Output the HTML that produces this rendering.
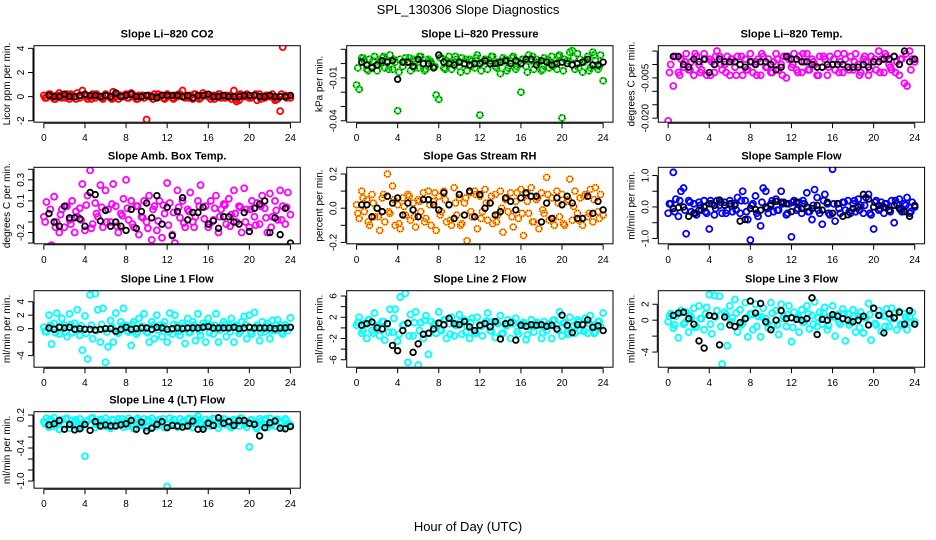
<!DOCTYPE html>
<html><head><meta charset="utf-8"><title>SPL_130306 Slope Diagnostics</title>
<style>
html,body{margin:0;padding:0;background:#fff;}
svg{display:block;font-family:"Liberation Sans",Arial,sans-serif;}
</style></head>
<body>
<svg id="chart" width="936" height="540" viewBox="0 0 936 540" xmlns="http://www.w3.org/2000/svg">
<text x="468" y="14" text-anchor="middle" font-size="13">SPL_130306  Slope Diagnostics</text>
<text x="468" y="531" text-anchor="middle" font-size="13">Hour of Day (UTC)</text>
</svg>
<script>
const hoursColor = [0,0.25,0.5,0.75,1,1.25,1.5,1.75,2,2.25,2.5,2.75,3,3.25,3.5,3.75,4,4.25,4.5,4.75,5,5.25,5.5,5.75,6,6.25,6.5,6.75,7,7.25,7.5,7.75,8,8.25,8.5,8.75,9,9.25,9.5,9.75,10,10.25,10.5,10.75,11,11.25,11.5,11.75,12,12.25,12.5,12.75,13,13.25,13.5,13.75,14,14.25,14.5,14.75,15,15.25,15.5,15.75,16,16.25,16.5,16.75,17,17.25,17.5,17.75,18,18.25,18.5,18.75,19,19.25,19.5,19.75,20,20.25,20.5,20.75,21,21.25,21.5,21.75,22,22.25,22.5,22.75,23,23.25,23.5,23.75,24];
const hoursColor2 = [0.125,0.625,1.125,1.625,2.125,2.625,3.125,3.625,4.125,4.625,5.125,5.625,6.125,6.625,7.125,7.625,8.125,8.625,9.125,9.625,10.125,10.625,11.125,11.625,12.125,12.625,13.125,13.625,14.125,14.625,15.125,15.625,16.125,16.625,17.125,17.625,18.125,18.625,19.125,19.625,20.125,20.625,21.125,21.625,22.125,22.625,23.125,23.625];
const hoursBlack = [0.5,1,1.5,2,2.5,3,3.5,4,4.5,5,5.5,6,6.5,7,7.5,8,8.5,9,9.5,10,10.5,11,11.5,12,12.5,13,13.5,14,14.5,15,15.5,16,16.5,17,17.5,18,18.5,19,19.5,20,20.5,21,21.5,22,22.5,23,23.5,24];
const xTicks = [0,4,8,12,16,20,24];

const co2Color = [0.1,-0.1,0.2,0,-0.2,0.1,0.3,-0.1,0,0.2, -0.2,0.1,0,0.3,-0.1,0.5,0.1,-0.2,0,0.2, -0.1,0.1,0,-0.2,0.2,0.1,-0.1,0.4,0,-0.2, 0.1,0,0.2,-0.1,0.3,0,-0.2,0.1,0,-0.1, -1.9,0.1,0,0.2,-0.1,0,0.1,-0.2,0.2,0, -0.1,0.1,0,0.2,0.5,-0.1,0,0.1,-0.2,0.2, 0,-0.1,0.3,0.1,0,-0.2,0.1,0,0.2,-0.1, 0,0.1,0,-0.2,0.5,-0.4,-0.3,0.1,0,0.2, -0.1,0,0.1,-0.3,0.2,0,-0.1,0.1,0,0.2, -0.3,-0.2,-1.2,4.1,0.1,0,-0.1];
const co2Color2 = [-0.1,0.2,-0.2,0.1,-0.1,0.2,-0.2,0.1,0,-0.2,0.2,-0.1,0.1,-0.2,0.2,0,-0.1,0.2,-0.2,0.1,0,-0.2,0.2,-0.1,0.1,-0.2,0.2,0,-0.1,0.2,-0.2,0.1,0,-0.2,0.2,-0.1,0.1,-0.2,0.2,0,-0.1,0.2,-0.2,0.1,0,-0.2,0.2,-0.1];
const co2Black = [0.1,0,0,0.2,0,0,0.1,0.2,0.1,0.1,0,0.1,0,0.3,0,0.1,0.2,0,0,0.1,0,-0.1,0.1,0.1,0.1,0.1,0,0.1,-0.1,0.1,0.1,0.2,0,0,0.1,0,0,0,0.1,0.1,0.1,0,0,0.1,0,0,0,0.1];

const presColor = [-0.015,-0.018,0.004,0.002,-0.004,0.003,-0.002,0.005,-0.005,0.001, 0.004,-0.003,0.002,0.006,-0.004,0.001,-0.033,0.003,-0.002,0.004, 0.001,-0.005,0.003,0.002,-0.003,0.005,0,-0.004,0.003,0.001, -0.002,-0.022,-0.025,0.004,-0.003,0.002,0.005,-0.004,0.001,0.003, -0.002,0.004,0,-0.005,0.003,0.002,-0.003,0.006,-0.036,0.001, 0.003,-0.004,0.002,0.005,-0.002,0.001,-0.007,0.004,0.003,-0.003, 0.002,0.005,-0.004,0.001,-0.02,0.003,-0.002,0.006,0.002,-0.004, 0.003,0.001,-0.005,0.004,0.002,-0.003,0.005,0,-0.004,0.006, -0.038,0.003,0.002,0.008,0.009,-0.004,0.007,0.003,-0.006,0.002, 0.005,-0.003,0.008,0.002,-0.004,0.006,-0.012];
const presColor2 = [-0.003,0.004,-0.005,0.002,-0.001,0.005,-0.004,0.003,-0.006,0.001,0.004,-0.003,0.005,-0.005,0.002,-0.002,0.004,-0.004,0.001,0.005,-0.006,0.003,-0.002,0.004,-0.005,0.002,0.005,-0.003,0.001,-0.005,0.004,-0.002,0.003,-0.006,0.005,0.001,-0.004,0.003,-0.002,0.005,-0.005,0.002,0.004,-0.003,0.001,-0.005,0.006,-0.002];
const presBlack = [0.001,-0.001,-0.003,-0.001,0.002,0.001,0.002,-0.011,0.001,0.001,-0.002,0.003,0,0,-0.003,0.006,0.001,0,-0.001,0.001,0,-0.001,0,0,0.002,0,0,0.001,0.002,0,0.002,0,0.003,0.003,-0.001,0.002,0.001,-0.001,0,0.001,0,-0.001,0,0.001,0.003,-0.001,-0.001,0.001];

const tempColor = [-0.021,0,-0.008,0.003,-0.003,0.002,-0.001,0.004,-0.002,0.001, -0.004,0.003,0,-0.002,0.004,-0.004,0.002,0.001,-0.003,0.005, 0.003,-0.002,0,0.003,-0.004,0.002,-0.001,0.003,0,-0.004, 0.002,-0.002,0.004,-0.003,0.001,0.002,-0.004,0.003,-0.001,0.002, -0.003,0.001,0.004,-0.002,0,0.003,-0.005,0.002,-0.001,0.004, -0.002,0.003,-0.003,0.001,0.004,-0.002,0.002,0,-0.004,0.003, -0.001,0.002,-0.004,0.003,0,-0.002,0.004,0.001,-0.003,0.002, -0.001,0.003,-0.002,0.004,0,-0.003,0.002,0.001,-0.004,0.003, 0.001,-0.002,0.005,0.002,-0.003,0.003,0,-0.002,0.003,0.001, -0.004,0.002,-0.007,-0.008,0.005,0.002,0.001];
const tempColor2 = [-0.003,0.003,-0.004,0.001,-0.002,0.004,-0.003,0.002,-0.004,0.003,0,-0.003,0.002,-0.004,0.003,-0.002,0.001,-0.004,0.004,-0.001,-0.003,0.002,-0.004,0.003,0,-0.003,0.004,-0.002,0.001,-0.004,0.003,-0.001,0.002,-0.003,0.004,-0.002,0.001,-0.004,0.003,-0.002,0.002,-0.003,0.004,-0.001,-0.003,0.002,0.004,-0.002];
const tempBlack = [0.003,0.003,0,-0.001,0.002,0.001,0.002,-0.003,0,0.002,0.001,0.001,0.001,0,-0.001,0.001,0,0.001,0.001,0,-0.002,-0.001,0.003,0.002,0.002,0.001,0.001,0,-0.001,-0.001,0,0,0,0,-0.001,-0.001,-0.001,0,-0.001,0.001,0.001,0.002,0.002,0.003,0,0.005,0.001,0.002];

const ambColor = [-0.05,0.09,-0.35,-0.32,0.14,-0.1,-0.2,0.02,-0.15,0.05, -0.08,0.1,-0.2,-0.05,0.03,0.26,-0.18,0.15,0.39,-0.12, 0.08,-0.05,0.25,-0.15,0.2,0.02,-0.1,0.26,0.05,-0.2, -0.02,0.12,0.3,-0.08,0.1,-0.15,0.05,-0.22,-0.05,0.1, -0.1,0.15,-0.27,0.05,-0.18,0.1,-0.25,-0.02,0.27,0.08, -0.22,-0.3,0.2,-0.06,0.1,-0.15,0.02,0.18,-0.1,-0.05, 0.1,0.25,-0.35,0.05,-0.15,0.1,-0.08,0.15,-0.2,0.02, 0.07,-0.12,0.12,-0.03,0.2,-0.1,0.05,-0.2,0.22,0.02, -0.15,0.1,-0.05,0.08,-0.12,0.15,0.03,-0.2,0.17,-0.05, 0.1,-0.08,0.2,0.05,-0.12,0.18,-0.03];
const ambColor2 = [-0.1,0.02,-0.15,-0.03,0.05,-0.12,0.0,-0.08,0.06,-0.16,-0.02,0.04,-0.1,0.07,-0.14,-0.04,0.03,-0.12,0.05,-0.06,-0.16,0.02,-0.09,0.06,-0.13,-0.01,0.04,-0.11,0.0,-0.15,0.05,-0.07,-0.12,0.03,-0.05,0.06,-0.14,-0.02,0.04,-0.1,0.02,-0.13,0.05,-0.06,-0.15,0.01,-0.08,0.04];
const ambBlack = [-0.02,-0.1,-0.14,0.05,-0.06,-0.06,-0.07,-0.14,0.18,0.16,-0.09,0.01,-0.14,-0.1,-0.14,-0.18,0.02,-0.16,0.0,0.08,-0.06,0.15,-0.12,0.04,-0.23,0.0,0.13,-0.08,-0.01,-0.01,0.04,-0.12,-0.09,-0.16,-0.05,-0.05,-0.1,-0.12,-0.01,-0.19,0.03,0.07,0.1,-0.2,-0.06,-0.22,0.03,-0.3];

const rhColor = [0.02,-0.06,0.1,-0.02,0.05,-0.1,0.08,-0.05,0.0,-0.13, 0.06,-0.08,0.2,-0.03,0.13,-0.1,0.02,-0.12,0.06,-0.04, 0.08,-0.07,0.03,-0.11,0.05,-0.02,0.09,-0.06,0.1,-0.1, 0.04,-0.13,0.07,-0.02,0.1,-0.08,0.02,-0.1,0.12,-0.04, 0.06,-0.09,0.03,-0.19,0.09,-0.05,0.1,-0.12,0.07,-0.02, 0.11,-0.07,0.03,-0.09,0.08,-0.04,0.1,-0.14,0.05,-0.02, 0.09,-0.11,0.04,-0.06,0.11,-0.16,0.08,-0.03,0.12,-0.08, 0.05,-0.12,0.09,-0.03,0.18,-0.07,0.06,-0.1,0.1,-0.05, 0.08,-0.1,0.04,0.17,-0.07,0.1,-0.03,0.06,-0.1,0.08, -0.05,0.11,-0.08,0.12,-0.02,0.08,-0.04];
const rhColor2 = [-0.03,0.06,-0.08,0.03,-0.05,0.08,-0.02,0.05,-0.09,0.01,0.07,-0.05,0.04,-0.08,0.02,0.09,-0.04,0.05,-0.07,0.03,-0.1,0.06,-0.02,0.08,-0.06,0.03,0.07,-0.08,0.0,0.06,-0.05,0.09,-0.03,0.04,-0.08,0.06,-0.01,0.08,-0.06,0.03,-0.09,0.05,0.01,-0.07,0.07,-0.03,0.05,-0.06];
const rhBlack = [0.02,0.02,-0.05,0.0,-0.02,0.07,0.03,0.06,-0.04,0.03,-0.01,-0.05,0.05,0.05,0.02,-0.01,0.09,0.02,-0.06,0.08,-0.04,0.1,-0.05,0.08,0.0,0.03,-0.04,-0.02,0.06,0.04,-0.01,0.06,0.09,0.07,0.07,-0.08,0.03,-0.06,0.06,0.02,0.07,0.03,-0.06,-0.06,0.07,-0.03,0.04,-0.01];

const sampColor = [-0.2,0.1,1.1,0.25,-0.3,0.5,0.6,-0.85,0.2,-0.15, 0.1,-0.25,0.15,-0.1,0.2,-0.2,-0.7,0.1,-0.25,0.2, 0.05,-0.2,0.15,-0.1,0.2,-0.15,0.1,0.3,-0.2,0.5, 0.2,-0.4,-1.05,0.1,0.35,-0.3,-0.6,0.6,0.5,-0.2, 0.1,-0.15,0.25,-0.1,0.5,0.15,-0.25,0.1,-0.95,0.2, -0.1,0.15,-0.2,0.1,0.45,-0.15,-0.4,0.55,0.3,-0.2, -0.55,0.4,0.1,-0.25,1.2,-0.45,0.1,-0.2,0.15,-0.1, 0.2,-0.2,0.1,-0.15,0.25,0.05,-0.2,0.3,0.4,-0.25, -0.7,0.2,-0.1,0.15,-0.2,0.1,-0.1,0.2,-0.5,0.1, 0.25,-0.15,0.1,0.3,-0.2,0.15,0.0];
const sampColor2 = [0.1,-0.15,0.2,-0.1,0.15,-0.2,0.05,-0.15,0.2,-0.05,0.15,-0.2,0.1,-0.1,0.2,-0.15,0.05,-0.2,0.15,-0.05,0.2,-0.1,0.1,-0.2,0.15,-0.05,0.2,-0.15,0.05,-0.1,0.2,-0.2,0.1,-0.05,0.15,-0.15,0.2,-0.1,0.05,-0.2,0.15,-0.05,0.1,-0.15,0.2,-0.1,0.05,-0.15];
const sampBlack = [-0.05,-0.02,0.0,-0.3,-0.2,-0.1,0.0,0.1,0.05,0.22,0.05,0.1,0.05,-0.45,-0.4,-0.05,-0.08,-0.1,0.0,0.05,0.18,0.15,0.1,-0.15,0.15,-0.05,0.0,-0.05,0.05,-0.1,0.15,-0.2,0.1,-0.3,-0.25,-0.05,0.0,0.4,0.25,0.0,0.05,0.0,-0.1,0.05,-0.05,-0.15,-0.3,0.05];

const l1Color = [0.2,-0.5,2.0,-2.3,0.8,2.3,-0.8,1.5,0.5,-1.2, 2.2,-0.6,0.8,2.8,-1.0,-3.2,1.9,-4.5,5.0,-1.5, 5.2,2.8,-2.0,3.0,-5.0,-2.7,1.2,-2.0,2.3,-0.7, 1.0,3.0,0.5,-0.5,-2.5,1.0,-0.8,1.5,0.3,2.2, -0.5,-2.0,1.0,-1.5,2.0,0.5,-1.2,1.0,-2.0,2.3, -0.8,2.0,0.5,-1.0,0.8,-2.2,1.5,-0.5,1.0,-1.8, 2.2,-1.0,0.8,-2.0,1.5,0.5,-0.8,2.2,-2.0,0.3, 1.0,-1.2,0.5,1.5,-2.0,0.5,-0.7,1.0,1.8,-1.5, 2.0,-0.8,2.4,0.5,-1.8,1.0,-0.5,0.8,-1.5,1.2, -0.3,1.3,0.5,-0.8,0.6,-0.3,1.6];
const l1Color2 = [-0.4,0.5,-0.6,0.3,-0.5,0.6,-0.2,0.4,-0.7,0.5,-0.3,0.6,-0.5,0.2,-0.6,0.4,-0.3,0.6,-0.5,0.3,-0.6,0.5,-0.2,0.4,-0.5,0.6,-0.4,0.3,-0.6,0.5,-0.3,0.4,-0.6,0.5,-0.2,0.6,-0.5,0.3,-0.4,0.6,-0.5,0.2,-0.6,0.4,-0.3,0.5,-0.5,0.3];
const l1Black = [0.1,-0.1,0.2,0.1,0.2,-0.1,0,-0.1,-0.1,-0.2,-0.1,0,0,-0.4,-0.1,0.2,-0.1,0,0.1,0.1,-0.1,0.2,0.1,-0.1,0,0.1,0,0.1,0.1,0.1,0.2,0.3,0.1,0.1,0.1,0.1,0.2,0,0.1,0.2,0.1,0.1,0.1,0.1,0,0.1,0.1,0.2];

const l2Color = [0.5,2.0,-1.0,0.8,-2.0,1.5,-0.5,2.8,0.3,-1.5, 1.2,-2.3,0.8,3.5,-0.8,3.5,-2.5,5.8,0.5,6.5, -6.5,2.5,-1.5,3.0,-7.0,1.0,-2.0,2.3,-5.0,1.2, 0.5,-1.0,3.0,-0.5,1.5,-2.0,0.8,2.0,-1.5,0.5, 2.5,-1.2,1.5,0.3,-2.0,1.8,-1.0,2.0,0.5,-1.5, 1.0,2.8,-0.5,1.2,-1.8,0.8,2.3,-1.0,0.5,1.5, -2.0,0.8,1.8,-1.2,0.5,1.0,-2.2,0.3,1.5,-0.8, 1.0,0.5,-2.0,1.2,-0.5,0.8,-2.0,1.5,0.5,3.0, -1.5,1.0,-0.8,2.0,0.3,-1.0,1.5,-0.5,0.8,1.8, -1.0,2.3,0.5,-0.8,1.2,0.3,2.8];
const l2Color2 = [1.0,-0.5,1.5,-1.0,0.5,1.2,-0.8,1.8,-1.2,0.6,-1.5,1.0,-0.5,1.4,-1.0,0.8,-0.3,1.5,-1.2,0.5,1.2,-0.8,1.0,-1.0,0.3,1.3,-0.6,0.9,-1.1,0.4,1.2,-0.7,0.8,-1.3,0.5,1.0,-0.9,0.6,1.4,-0.5,0.9,-1.2,0.4,1.1,-0.6,0.8,-1.0,1.2];
const l2Black = [0.5,0.8,1.1,0.0,-0.2,0.8,-3.3,-4.3,-0.5,0.9,-4.6,-3.0,-1.2,-1.0,-0.2,0.9,0.6,1.8,0.8,0.6,1.2,0.2,-0.5,0.5,0.8,0.2,1.2,-2.1,0.8,1.0,-2.3,0.5,0.3,0.6,0.5,0.6,0.3,0.5,-0.2,2.4,0.5,-0.9,0.6,0.6,1.5,0.1,0.4,-0.5];

const l3Color = [-0.2,0.8,-1.0,0.5,-2.2,1.2,-0.5,1.0,-1.5,0.3, 1.5,-0.8,1.8,0.2,-1.2,1.6,3.2,-1.7,3.1,1.2, 3.0,-5.5,1.0,-3.2,1.8,0.3,2.6,-1.5,1.3,-0.4, 2.2,-2.1,0.8,-1.2,2.0,0.5,-2.1,1.5,0.2,-1.0, 2.2,-0.6,1.2,-1.8,2.0,0.5,-0.8,1.8,-2.7,1.0, 0.3,-1.5,1.3,-0.2,1.8,-1.1,0.6,2.3,-0.8,1.0, -0.5,1.6,-1.2,0.4,1.8,-2.0,0.7,-0.5,1.4,-2.6, 0.8,-0.3,1.3,-1.5,0.5,1.0,-1.6,0.3,2.1,-2.5, 1.5,-0.6,1.2,-1.4,0.5,1.4,-0.8,1.5,0.2,-1.2, 1.1,-0.6,0.8,-1.2,0.4,1.0,-0.2];
const l3Color2 = [0.5,-0.6,0.9,-0.3,0.6,-0.9,0.2,0.8,-0.5,0.4,-0.8,0.7,-0.2,0.9,-0.6,0.3,0.7,-0.8,0.4,-0.4,0.9,-0.6,0.2,0.7,-0.9,0.5,-0.3,0.8,-0.5,0.3,0.9,-0.7,0.4,-0.2,0.8,-0.6,0.5,-0.9,0.3,0.7,-0.4,0.6,-0.8,0.2,0.9,-0.5,0.4,-0.3];
const l3Black = [0.6,0.9,1.0,0.2,-0.5,-2.6,-3.5,0.6,0.5,-3.1,0.4,-0.6,-0.8,-0.3,0.2,2.4,0.9,2.1,-0.2,-1.2,0.0,1.2,0.2,0.3,0.1,0.0,0.2,2.8,-1.8,0.1,0.0,0.7,0.5,0.2,0.0,-0.2,0.0,0.5,-0.6,1.5,0.6,-1.6,0.8,0.3,1.0,-0.5,1.2,-0.5];

const l4Color = [0.08,0.14,-0.02,0.1,0.15,0.05,-0.06,0.12,0.02,0.14, -0.04,0.1,0.07,-0.02,0.13,0.04,-0.55,0.1,0.02,0.15, -0.03,0.08,0.12,0.0,0.14,0.06,-0.04,0.11,0.02,0.13, 0.05,-0.02,0.09,0.14,0.03,-0.05,0.12,0.07,0.01,0.13, -0.03,0.1,0.14,0.04,0.0,0.12,0.06,-0.03,-1.1,0.14, 0.05,0.1,-0.02,0.13,0.07,0.0,0.12,0.04,-0.03,0.14, 0.18,0.05,-0.02,0.12,0.08,0.0,0.14,0.05,-0.04,0.1, 0.13,0.02,0.09,-0.03,0.12,0.06,0.0,0.14,0.04,-0.02, -0.38,0.11,0.06,-0.05,0.13,0.02,0.1,-0.03,0.14,0.05, 0.0,0.12,0.07,-0.02,0.13,0.05,0.02];
const l4Color2 = [0.04,0.12,-0.01,0.09,0.13,0.02,0.11,-0.02,0.08,0.14,0.03,0.1,-0.01,0.12,0.06,0.13,0.0,0.1,0.14,0.04,0.11,-0.02,0.09,0.13,0.03,0.12,0.0,0.1,0.14,0.05,0.11,-0.01,0.08,0.13,0.03,0.12,0.0,0.1,0.14,0.04,0.11,-0.02,0.09,0.13,0.02,0.12,0.05,0.1];
const l4Black = [0.02,0.04,0.1,-0.06,0.03,-0.07,-0.05,0.03,-0.08,0.08,0.0,0.02,0.0,0.0,0.02,0.04,0.1,-0.06,0.07,-0.09,-0.04,0.03,0.08,-0.03,0.01,0.0,-0.02,0.0,0.09,-0.06,-0.06,0.05,0.01,0.15,0.05,0.08,0.01,0.1,0.1,0.05,0.03,-0.18,-0.03,0.06,0.09,-0.04,-0.05,-0.01];

const titles = ["Slope Li\u2013820 CO2","Slope Li\u2013820 Pressure","Slope Li\u2013820 Temp.","Slope Amb. Box Temp.","Slope Gas Stream RH","Slope Sample Flow","Slope Line 1 Flow","Slope Line 2 Flow","Slope Line 3 Flow","Slope Line 4 (LT) Flow"];
const yTitles = ["Licor ppm per min.","kPa per min.","degrees C  per min.","degrees C per min.","percent per min.","ml/min per min.","ml/min per min.","ml/min per min.","ml/min per min.","ml/min per min."];
const yTicks = [[-2,0,2,4],[0.01,0,-0.01,-0.02,-0.03,-0.04],[0.005,0,-0.005,-0.01,-0.015,-0.02],[0.4,0.3,0.2,0.1,0,-0.1,-0.2,-0.3],[0.2,0.1,0,-0.1,-0.2],[1,0.5,0,-0.5,-1],[4,2,0,-2,-4],[6,4,2,0,-2,-4,-6],[2,0,-2,-4],[0.2,0,-0.2,-0.4,-0.6,-0.8,-1.0]];
const yTickLabels = [["-2","0","2","4"],["","","-0.01","","","-0.04"],["","","-0.005","","","-0.020"],["","0.3","","0.1","","","-0.2",""],["0.2","","0.0","","-0.2"],["1.0","","0.0","","-1.0"],["4","2","0","","-4"],["6","","2","","-2","","-6"],["2","0","","-4"],["0.2","","","-0.4","","","-1.0"]];
const yRanges = [[4.22,-2.12],[0.0125,-0.041],[0.007,-0.0215],[0.419,-0.307],[0.239,-0.208],[1.26,-1.17],[5.63,-5.72],[7.0,-7.4],[3.7,-5.9],[0.26,-1.13]];
const colorSeries = [co2Color,presColor,tempColor,ambColor,rhColor,sampColor,l1Color,l2Color,l3Color,l4Color];
const colorSeries2 = [co2Color2,presColor2,tempColor2,ambColor2,rhColor2,sampColor2,l1Color2,l2Color2,l3Color2,l4Color2];
const blackSeries = [co2Black,presBlack,tempBlack,ambBlack,rhBlack,sampBlack,l1Black,l2Black,l3Black,l4Black];
const colors = ["#ff0000","#00e600","#ff00ff","#ff00ff","#ffc800","#0000ff","#00ffff","#00ffff","#00ffff","#00ffff"];
const overlays = [null,"#000000",null,null,"#ff0000",null,null,null,null,null];
const slugs = ["co2","pressure","li820-temp","amb-box-temp","gas-stream-rh","sample-flow","line1-flow","line2-flow","line3-flow","line4-flow"];

const NS = "http://www.w3.org/2000/svg";
const svg = document.getElementById("chart");
const colLeft = [34, 346.7, 658.3];
const rowTop = [45.7, 167.3, 290.7, 411.7];
const PW = 266.3, PH = 76.5;
function mk(tag, attrs, parent){ const e=document.createElementNS(NS,tag); for(const k in attrs) e.setAttribute(k,attrs[k]); (parent||svg).appendChild(e); return e; }

for (let p=0;p<10;p++){
  const x0 = colLeft[p%3], y0 = rowTop[Math.floor(p/3)];
  const top = yRanges[p][0], bot = yRanges[p][1];
  const xs = h => x0 + (h + 0.96) / 25.92 * PW;
  const ys = v => y0 + (top - v) / (top - bot) * PH;
  const g = mk("g", {});
  
  
  const t = mk("text", {x: x0 + PW/2, y: y0 - 8, "text-anchor":"middle", "font-size":"11", "font-weight":"bold"}, g);
  t.textContent = titles[p];
  
  
  const yt = mk("text", {x: 0, y: 0, "text-anchor":"middle", "font-size":"10", transform:`translate(${x0-24},${y0+PH/2}) rotate(-90)`}, g);
  yt.textContent = yTitles[p];
  
  
  const cid = "clip"+p;
  const cp = mk("clipPath", {id: cid}, g);
  mk("rect", {x:x0, y:y0, width:PW, height:PH}, cp);
  const pts = mk("g", {"clip-path":`url(#${cid})`, fill:"none"}, g);
  
  
  const drawColored = (hrs, vals) => {
    const n = Math.min(vals.length, hrs.length);
    for (let i=0;i<n;i++){
      const c = mk("circle", {cx: xs(hrs[i]), cy: ys(vals[i]), r: 3, stroke: colors[p], "stroke-width": 1.8}, pts);
      
      
      if (overlays[p]) {
        const o = mk("circle", {cx: xs(hrs[i]), cy: ys(vals[i]), r: 3, stroke: overlays[p], "stroke-width": 1.2, "stroke-dasharray": p===1 ? "1 3" : "1.2 1.2"}, pts);
        
        
      }
    }
  };
  drawColored(hoursColor, colorSeries[p]);
  drawColored(hoursColor2, colorSeries2[p]);
  const bs = blackSeries[p];
  const m = Math.min(bs.length, hoursBlack.length);
  for (let i=0;i<m;i++){
    const c = mk("circle", {cx: xs(hoursBlack[i]), cy: ys(bs[i]), r: 2.8, stroke: "#000", "stroke-width": 1.8}, pts);
    
    
  }
  const box = mk("rect", {x:x0, y:y0, width:PW, height:PH, fill:"none", stroke:"#000", "stroke-width":1}, g);
  
  
  const xb = y0 + PH;
  mk("line", {x1: xs(xTicks[0]), x2: xs(xTicks[xTicks.length-1]), y1: xb+1, y2: xb+1, stroke:"#000"}, g);
  xTicks.forEach(v=>{
    mk("line", {x1: xs(v), x2: xs(v), y1: xb+1, y2: xb+6, stroke:"#000"}, g);
    const tl = mk("text", {x: xs(v), y: xb+19, "text-anchor":"middle", "font-size":"10"}, g);
    tl.textContent = String(v);
    
    
  });
  const yT = yTicks[p];
  mk("line", {x1: x0-1, x2: x0-1, y1: ys(yT[0]), y2: ys(yT[yT.length-1]), stroke:"#000"}, g);
  yT.forEach((v,i)=>{
    mk("line", {x1: x0-6, x2: x0-1, y1: ys(v), y2: ys(v), stroke:"#000"}, g);
    if (yTickLabels[p][i]) {
      const tl = mk("text", {x:0, y:0, "text-anchor":"middle", "font-size":"10", transform:`translate(${x0-10},${ys(v)}) rotate(-90)`}, g);
      tl.textContent = yTickLabels[p][i];
      
      
    }
  });
}
</script>
</body></html>
